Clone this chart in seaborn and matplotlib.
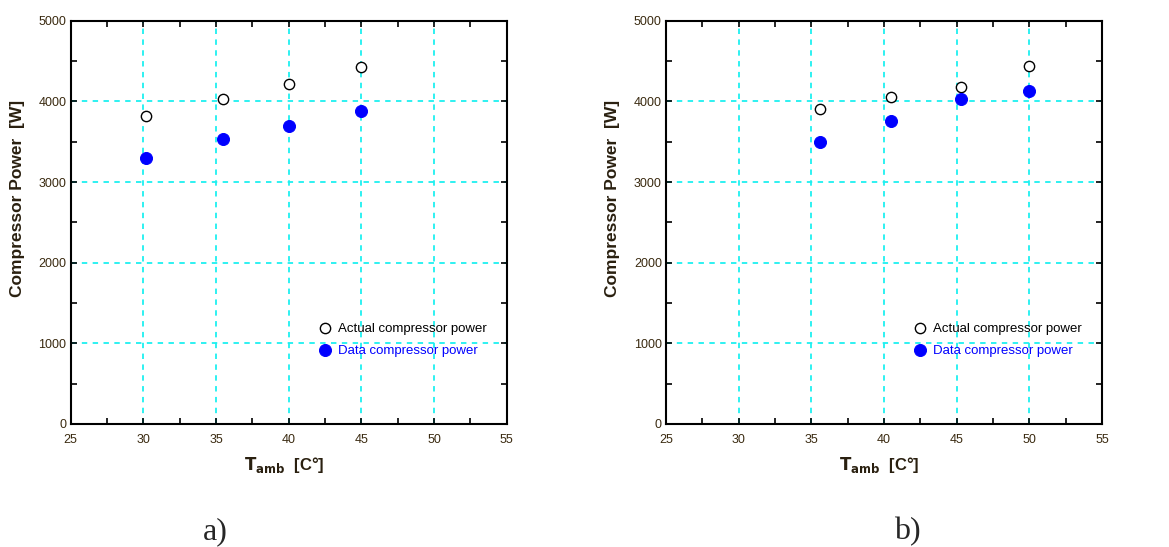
import pandas as pd
import matplotlib.pyplot as plt
import numpy as np
import seaborn as sns
from matplotlib.ticker import MultipleLocator

# panel a)
tambA = [30.2, 35.5, 40.0, 45.0]
actualA = [3820, 4025, 4215, 4430]
dataA = [3300, 3530, 3690, 3885]

# panel b)
tambB = [35.6, 40.5, 45.3, 50.0]
actualB = [3905, 4060, 4185, 4445]
dataB = [3500, 3755, 4030, 4125]

captions = ["a)", "b)"]

sns.set_style("white")
plt.rcParams['font.family'] = ['Liberation Sans', 'DejaVu Sans']

fig = plt.figure(figsize=(11.69, 5.47), dpi=100)
axA = fig.add_axes([0.0605, 0.2249, 0.373, 0.737])
axB = fig.add_axes([0.5697, 0.2249, 0.373, 0.737])

def drawPanel(ax, tamb, actual, data):
    df = pd.DataFrame({"tamb": tamb, "actual": actual, "data": data})
    sns.scatterplot(data=df, x="tamb", y="actual", ax=ax, marker="o", s=55,
                    facecolor="white", edgecolor="black", linewidth=1.0,
                    label="Actual compressor power", zorder=3)
    sns.scatterplot(data=df, x="tamb", y="data", ax=ax, marker="o", s=75,
                    color="#0000ff", edgecolor="#0000ff",
                    label="Data compressor power", zorder=3)
    ax.set_xlim(25, 55)
    ax.set_ylim(0, 5000)
    ax.xaxis.set_major_locator(MultipleLocator(5))
    ax.xaxis.set_minor_locator(MultipleLocator(2.5))
    ax.yaxis.set_major_locator(MultipleLocator(1000))
    ax.yaxis.set_minor_locator(MultipleLocator(500))
    ax.tick_params(which="both", direction="in", top=True, right=True,
                   bottom=True, left=True, length=4, width=1.2, colors="black",
                   labelsize=9)
    ax.tick_params(axis="x", which="major", pad=7)
    ax.tick_params(axis="y", which="major", pad=3)
    ax.tick_params(axis="both", which="major", labelcolor="#3a2a10")
    ax.grid(True, which="major", color="#1ef0f0", linestyle=(0, (3, 3)), linewidth=1.3)
    for sp in ax.spines.values():
        sp.set_color("black")
        sp.set_linewidth(1.5)
    ax.set_xlabel(r"$\mathbf{T_{amb}}$  [C°]", fontsize=12, fontweight="bold",
                  color="#2a2010")
    ax.set_ylabel("Compressor Power  [W]", fontsize=12.5, fontweight="bold",
                  color="#2a2010")
    ax.xaxis.set_label_coords(0.49, -0.077)
    ax.yaxis.set_label_coords(-0.105, 0.56)
    leg = ax.legend(loc="upper left", bbox_to_anchor=(0.555, 0.265), frameon=False,
                    fontsize=9.5, handletextpad=0.5, labelspacing=0.75,
                    borderaxespad=0, handlelength=1.0)
    leg.get_texts()[0].set_color("black")
    leg.get_texts()[1].set_color("#0000ff")

drawPanel(axA, tambA, actualA, dataA)
drawPanel(axB, tambB, actualB, dataB)

fig.text(0.184, 0.028, captions[0], fontsize=23, family="Liberation Serif",
         ha="center", va="center")
fig.text(0.776, 0.028, captions[1], fontsize=23, family="Liberation Serif",
         ha="center", va="center")

fig.savefig("out.png", dpi=100)
